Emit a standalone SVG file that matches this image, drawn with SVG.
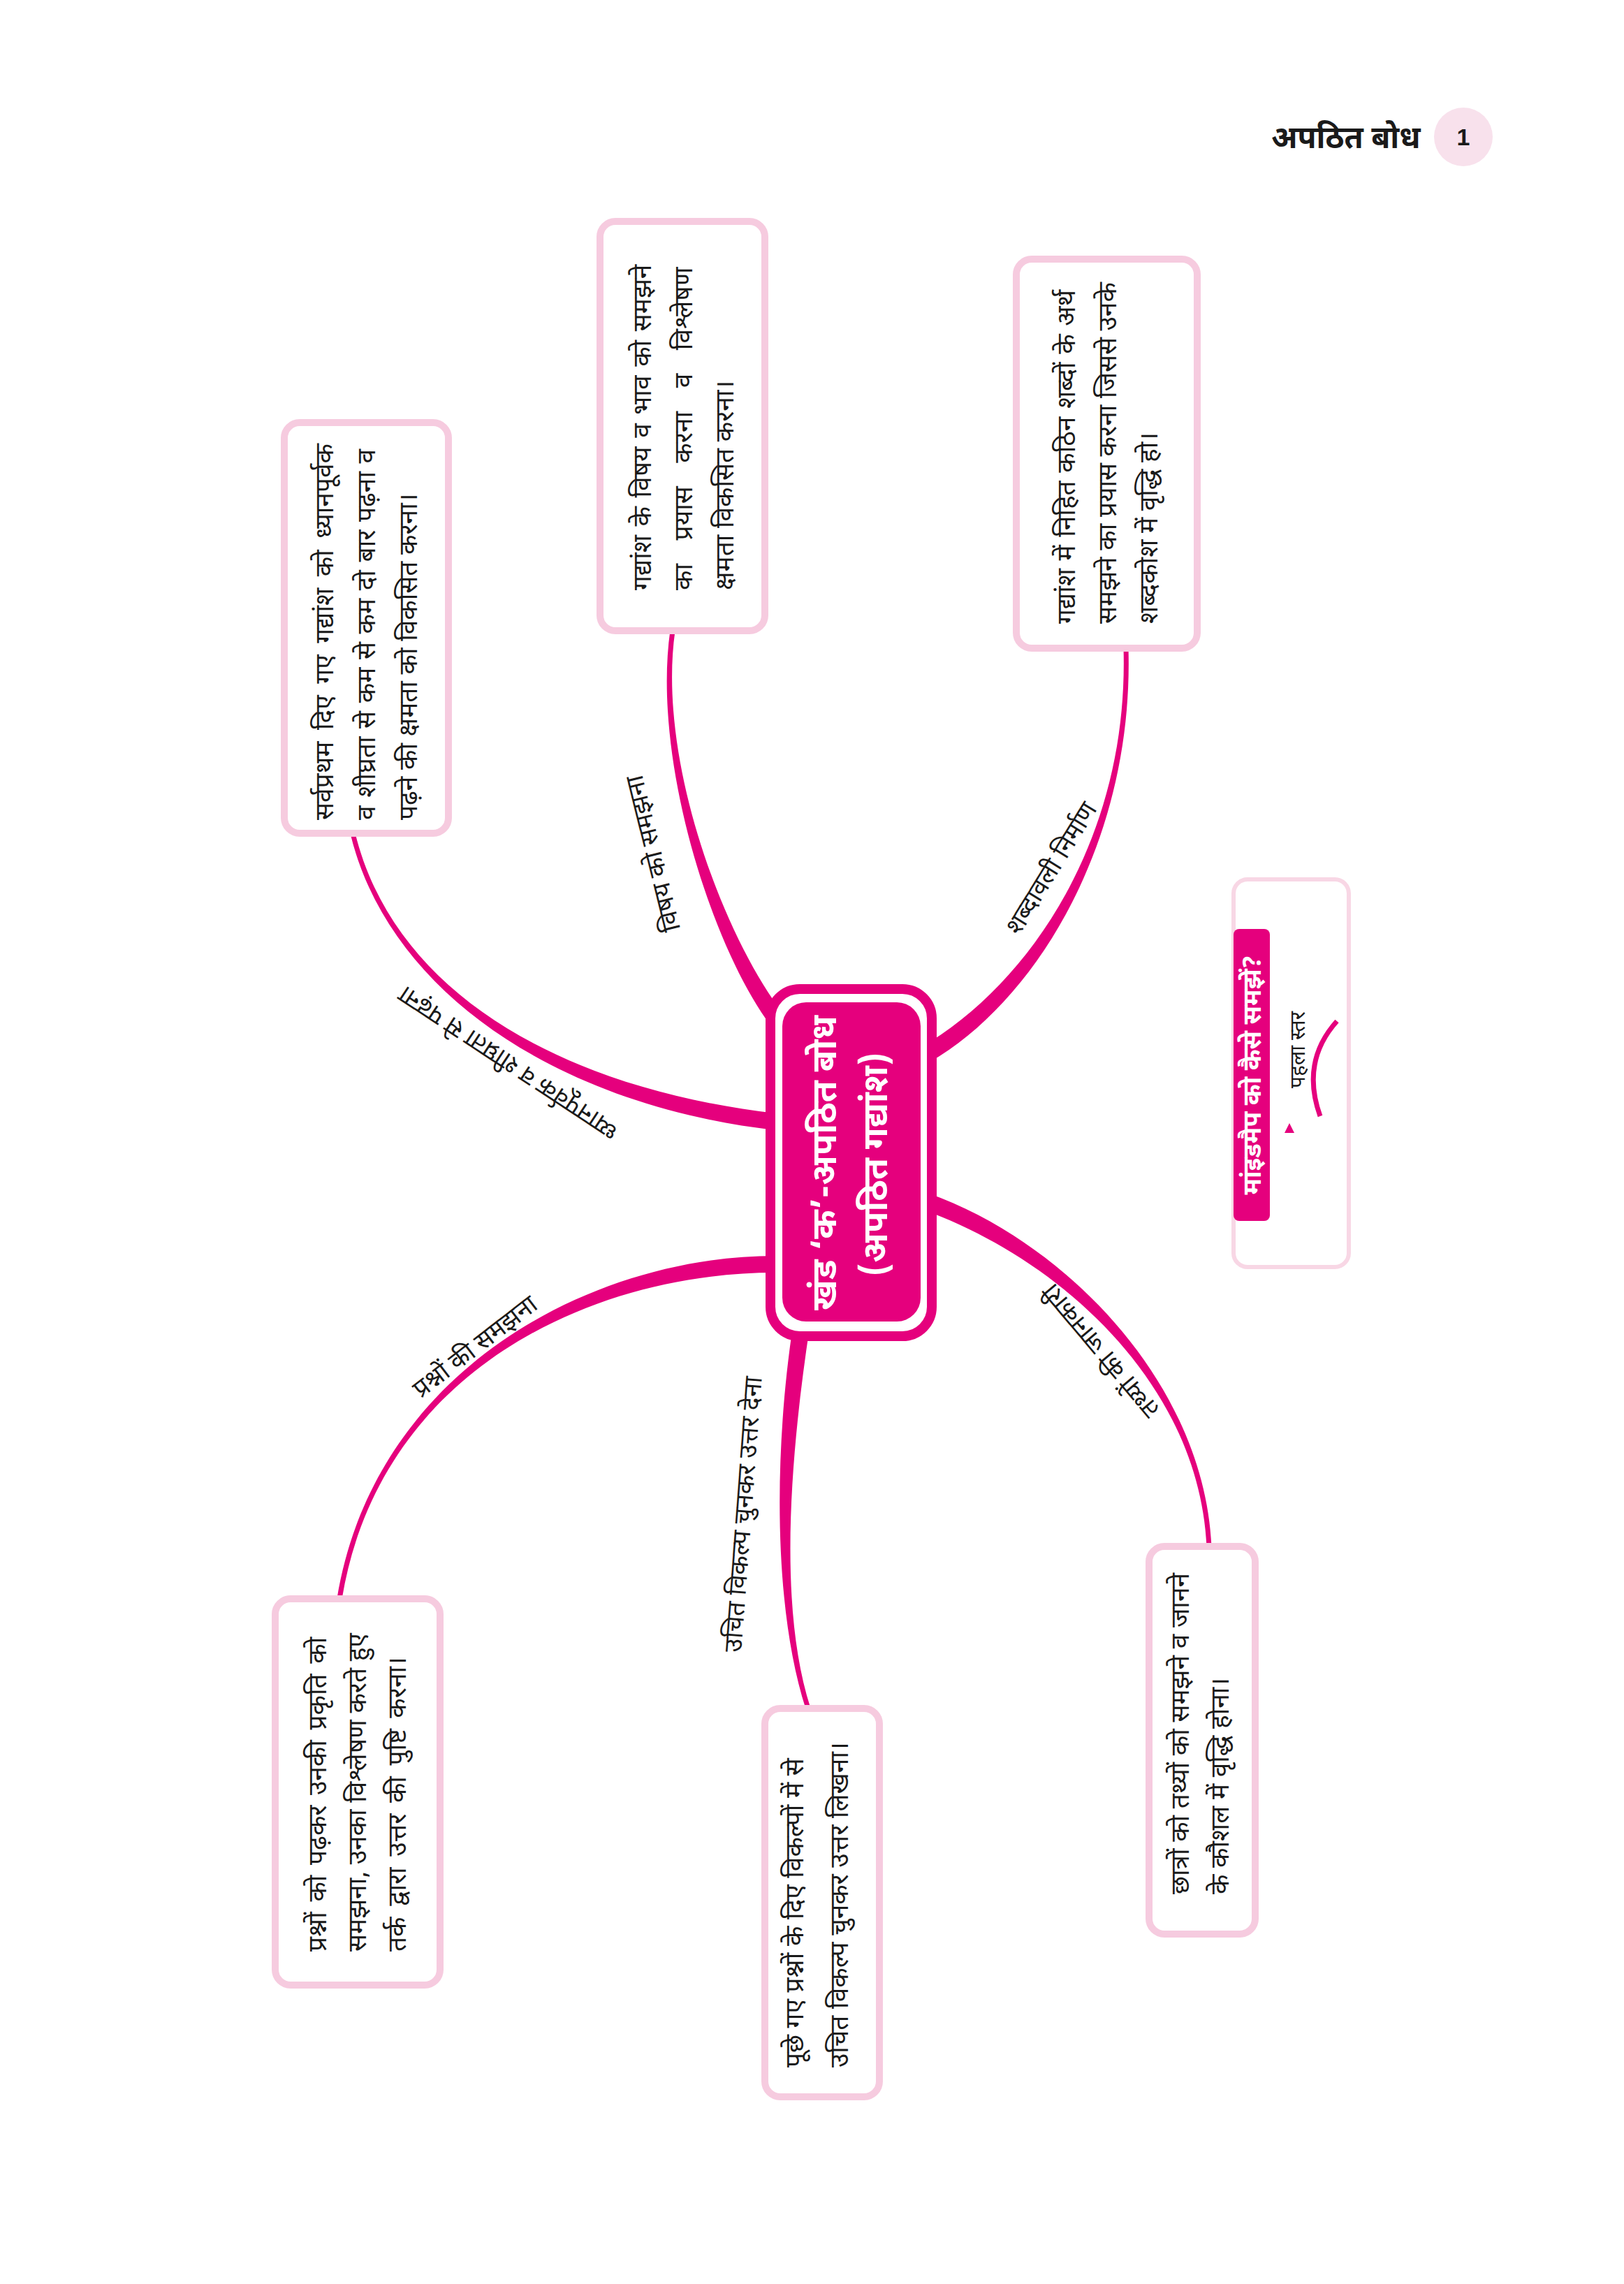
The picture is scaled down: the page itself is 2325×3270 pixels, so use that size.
<svg xmlns="http://www.w3.org/2000/svg" width="2325" height="3270" viewBox="0 0 2325 3270">
<style>
.t{font-family:"Noto Sans Devanagari","Noto Sans","Lohit Devanagari","FreeSans",sans-serif;fill:#1a1a1a}
.bt{font-size:37px}
.lb{font-size:36px;text-anchor:middle}
.box{fill:#fff;stroke:#f6cbdf;stroke-width:10}
.con{fill:#e5007d}
.ct{font-size:50px;font-weight:bold;fill:#fff;text-anchor:middle}
</style>
<rect width="2325" height="3270" fill="#fff"/>
<g id="header">
<text class="t" x="1820" y="212" font-size="44" font-weight="bold">अपठित बोध</text>
<circle cx="2095" cy="196" r="42" fill="#f8e1ec"/>
<text x="2095" y="208" font-family="Liberation Sans, sans-serif" font-size="34" font-weight="bold" text-anchor="middle" fill="#1a1a1a">1</text>
</g>
<g id="connectors">
<path class="con" d="M 1111.3,1594.1 C 801.3,1558.1 563.4,1419.2 508.4,1192.2 L 501.6,1193.8 C 556.6,1420.8 798.7,1581.9 1108.7,1617.9 Z"/>
<path class="con" d="M 1134.2,1466.7 C 1049.2,1371.7 938.5,1100.5 966.5,903.5 L 959.5,902.5 C 931.5,1099.5 1030.8,1388.3 1115.8,1483.3 Z"/>
<path class="con" d="M 1331.5,1520.5 C 1486.5,1430.5 1623.5,1199.9 1615.5,927.9 L 1608.5,928.1 C 1616.5,1200.1 1473.5,1409.5 1318.5,1499.5 Z"/>
<path class="con" d="M 1320.3,1731.4 C 1515.3,1801.4 1716.5,1980.2 1727.5,2214.2 L 1734.5,2213.8 C 1723.5,1979.8 1524.7,1778.6 1329.7,1708.6 Z"/>
<path class="con" d="M 1135.1,1898.4 C 1108.1,2078.4 1106.7,2301.1 1153.7,2447.1 L 1160.3,2444.9 C 1113.3,2298.9 1131.9,2081.6 1158.9,1901.6 Z"/>
<path class="con" d="M 1110,1798 C 850,1798 536.5,1959.4 482.5,2288.4 L 489.5,2289.6 C 543.5,1960.6 850,1822 1110,1822 Z"/>
<text class="t lb" transform="translate(728,1522) rotate(213.4)" y="12">ध्यानपूर्वक व शीघ्रता से पढ़ना</text>
<text class="t lb" transform="translate(935,1222) rotate(-104)" y="12">विषय को समझना</text>
<text class="t lb" transform="translate(1505,1243) rotate(-58.3)" y="12">शब्दावली निर्माण</text>
<text class="t lb" transform="translate(1576,1934) rotate(229.9)" y="12">तथ्यों की जानकारी</text>
<text class="t lb" transform="translate(1064,2168) rotate(-85.7)" y="12">उचित विकल्प चुनकर उत्तर देना</text>
<text class="t lb" transform="translate(680,1928) rotate(-37.6)" y="12">प्रश्नों की समझना</text>
</g>
<g id="center">
<rect x="1103" y="1416" width="231" height="497" rx="42" fill="#fff" stroke="#e5007d" stroke-width="14"/>
<rect x="1120" y="1435" width="198" height="457" rx="34" fill="#e5007d"/>
<text class="t ct" transform="translate(1197,1665) rotate(-90)">खंड ‘क’-अपठित बोध</text>
<text class="t ct" transform="translate(1270,1667) rotate(-90)">(अपठित गद्यांश)</text>
</g>
<g id="boxA">
<rect class="box" x="407" y="605" width="235" height="588" rx="22"/>
<text class="t bt" transform="translate(477,1174) rotate(-90)" word-spacing="7">सर्वप्रथम दिए गए गद्यांश को ध्यानपूर्वक</text>
<text class="t bt" transform="translate(537,1174) rotate(-90)" word-spacing="2">व शीघ्रता से कम से कम दो बार पढ़ना व</text>
<text class="t bt" transform="translate(597,1174) rotate(-90)">पढ़ने की क्षमता को विकसित करना।</text>
</g>
<g id="boxB">
<rect class="box" x="859" y="317" width="236" height="586" rx="22"/>
<text class="t bt" transform="translate(932,845) rotate(-90)" word-spacing="3">गद्यांश के विषय व भाव को समझने</text>
<text class="t bt" transform="translate(991,845) rotate(-90)" word-spacing="24">का प्रयास करना व विश्लेषण</text>
<text class="t bt" transform="translate(1050,845) rotate(-90)">क्षमता विकसित करना।</text>
</g>
<g id="boxC">
<rect class="box" x="1455" y="371" width="259" height="557" rx="22"/>
<text class="t bt" transform="translate(1539,893) rotate(-90)" word-spacing="2">गद्यांश में निहित कठिन शब्दों के अर्थ</text>
<text class="t bt" transform="translate(1598,893) rotate(-90)">समझने का प्रयास करना जिससे उनके</text>
<text class="t bt" transform="translate(1657,893) rotate(-90)">शब्दकोश में वृद्धि हो।</text>
</g>
<g id="legend">
<rect x="1766" y="1259" width="165" height="555" rx="20" fill="#fff" stroke="#f8d7e5" stroke-width="6"/>
<rect x="1766" y="1330" width="52" height="418" rx="8" fill="#e5007d"/>
<text class="t" transform="translate(1805,1539) rotate(-90)" font-size="36" font-weight="bold" style="fill:#fff" text-anchor="middle">मांइडमैप को कैसे समझें?</text>
<text class="t" transform="translate(1868,1503) rotate(-90)" font-size="30" text-anchor="middle">पहला स्तर</text>
<path d="M 1846,1608 L 1853,1622 L 1839,1622 Z" fill="#e5007d"/>
<path d="M 1914,1462 Q 1862,1520 1890,1598" fill="none" stroke="#e5007d" stroke-width="7"/>
</g>
<g id="boxE">
<rect class="box" x="1645" y="2214" width="152" height="555" rx="22"/>
<text class="t bt" transform="translate(1702,2712) rotate(-90)">छात्रों को तथ्यों को समझने व जानने</text>
<text class="t bt" transform="translate(1759,2712) rotate(-90)">के कौशल में वृद्धि होना।</text>
</g>
<g id="boxF">
<rect class="box" x="1095" y="2446" width="164" height="556" rx="22"/>
<text class="t bt" transform="translate(1150,2960) rotate(-90)">पूछे गए प्रश्नों के दिए विकल्पों में से</text>
<text class="t bt" transform="translate(1214,2960) rotate(-90)">उचित विकल्प चुनकर उत्तर लिखना।</text>
</g>
<g id="boxG">
<rect class="box" x="394" y="2289" width="236" height="553" rx="22"/>
<text class="t bt" transform="translate(467,2794) rotate(-90)" word-spacing="5">प्रश्नों को पढ़कर उनकी प्रकृति को</text>
<text class="t bt" transform="translate(524,2794) rotate(-90)">समझना, उनका विश्लेषण करते हुए</text>
<text class="t bt" transform="translate(581,2794) rotate(-90)" word-spacing="6">तर्क द्वारा उत्तर की पुष्टि करना।</text>
</g>
</svg>
